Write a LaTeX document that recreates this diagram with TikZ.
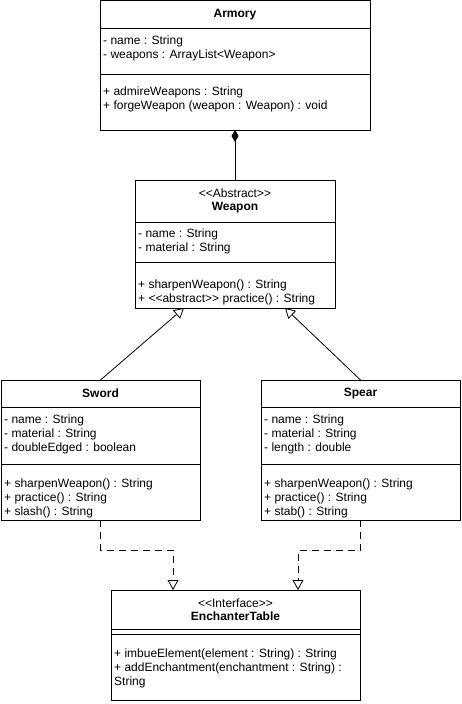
\documentclass[tikz,border=0pt]{standalone}
\usepackage{fontspec}
\setmainfont{Liberation Sans}
\usetikzlibrary{arrows.meta}
\newcommand{\umlstereo}[1]{<{}<#1>{}>}
\tikzset{
  part/.style={draw, line width=0.8pt, inner sep=0pt, outer sep=0pt, anchor=north west,
    align=center, font=\fontsize{12}{13.5}\selectfont},
  members/.style={align=left, anchor=north west, inner sep=0pt,
    font=\fontsize{12}{14}\selectfont},
  extends/.style={-{Triangle[open, length=10pt, width=11pt]}, line width=0.8pt},
  realizes/.style={extends, dash pattern=on 7pt off 5pt},
}
\begin{document}
\begin{tikzpicture}[x=1pt, y=-1pt]
\useasboundingbox (0,0) rectangle (461,704);

% Armory
\node[part, minimum width=270pt, minimum height=28pt] (armoryT) at (100,0.5) {\textbf{Armory}};
\node[part, minimum width=270pt, minimum height=46pt] (armoryA) at (100,28) {};
\node[part, minimum width=270pt, minimum height=56pt] (armoryO) at (100,74) {};
\node[members] (armoryAttr) at (103,35.5) {- name : String\\- weapons : ArrayList<Weapon>};
\node[members] (armoryOps) at (103,86.5) {+ admireWeapons : String\\+ forgeWeapon (weapon : Weapon) : void};

% Weapon
\node[part, minimum width=200pt, minimum height=42pt] (weaponT) at (135,180) {\umlstereo{Abstract}\\\textbf{Weapon}};
\node[part, minimum width=200pt, minimum height=40pt] (weaponA) at (135,222) {};
\node[part, minimum width=200pt, minimum height=46pt] (weaponO) at (135,262) {};
\node[members] (weaponAttr) at (138,228.5) {- name : String\\- material : String};
\node[members] (weaponOps) at (138,279.5) {+ sharpenWeapon() : String\\+ \umlstereo{abstract} practice() : String};

% Sword
\node[part, minimum width=199pt, minimum height=27pt] (swordT) at (1,380) {\textbf{Sword}};
\node[part, minimum width=199pt, minimum height=57pt] (swordA) at (1,407) {};
\node[part, minimum width=199pt, minimum height=56pt] (swordO) at (1,464) {};
\node[members] (swordAttr) at (4,414.5) {- name : String\\- material : String\\- doubleEdged : boolean};
\node[members] (swordOps) at (4,478.5) {+ sharpenWeapon() : String\\+ practice() : String\\+ slash() : String};

% Spear
\node[part, minimum width=199pt, minimum height=27pt] (spearT) at (261,380) {\textbf{Spear}};
\node[part, minimum width=199pt, minimum height=57pt] (spearA) at (261,407) {};
\node[part, minimum width=199pt, minimum height=56pt] (spearO) at (261,464) {};
\node[members] (spearAttr) at (264,414.5) {- name : String\\- material : String\\- length : double};
\node[members] (spearOps) at (264,478.5) {+ sharpenWeapon() : String\\+ practice() : String\\+ stab() : String};

% EnchanterTable
\node[part, minimum width=249pt, minimum height=39pt] (enchT) at (111,590) {\umlstereo{Interface}\\\textbf{EnchanterTable}};
\node[part, minimum width=249pt, minimum height=5pt] (enchA) at (111,629) {};
\node[part, minimum width=249pt, minimum height=66pt] (enchO) at (111,634) {};
\node[members] (enchOps) at (114,648.5) {+ imbueElement(element : String) : String\\+ addEnchantment(enchantment : String) :\\String};

% relations
\draw[line width=0.8pt, {Diamond[length=12pt, width=7pt]}-] (armoryO.south) -- (weaponT.north);
\draw[extends] (swordT.north) -- ([xshift=-51pt]weaponO.south);
\draw[extends] (spearT.north) -- ([xshift=50pt]weaponO.south);
\draw[realizes] (swordO.south) -- ++(0,30) -| ([xshift=62pt]enchT.north west);
\draw[realizes] (spearO.south) -- ++(0,30) -| ([xshift=187pt]enchT.north west);
\end{tikzpicture}
\end{document}
